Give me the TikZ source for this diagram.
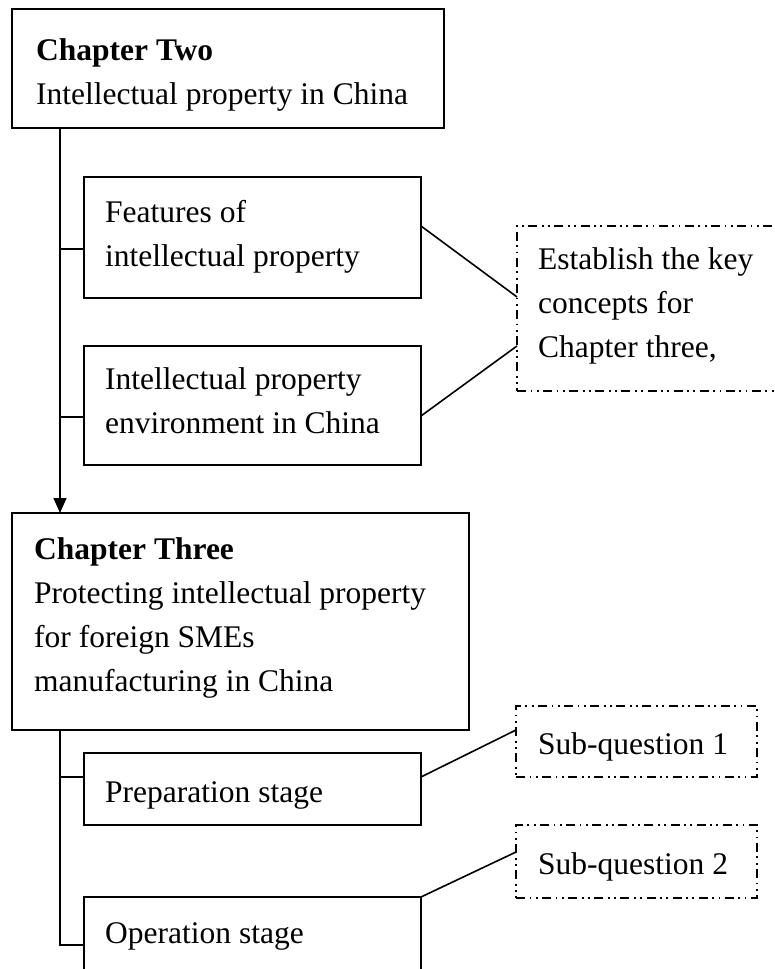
\documentclass[tikz,border=0pt]{standalone}
\usepackage{fontspec}
\setmainfont{Liberation Serif}
\usetikzlibrary{arrows.meta,calc}
\begin{document}
\begin{tikzpicture}[x=1pt,y=-1pt,
  mainbox/.style={draw,line width=2.6pt,inner sep=0pt,outer sep=0pt,anchor=north west},
  subbox/.style={draw,line width=1.8pt,inner sep=0pt,outer sep=0pt,anchor=north west},
  notebox/.style={draw,line width=1.8pt,inner sep=0pt,outer sep=0pt,anchor=north west,
    dash pattern=on 9pt off 4.5pt on 1.8pt off 4.5pt on 1.8pt off 4.5pt},
  label/.style={anchor=north west,inner sep=0pt,align=left,
    font=\fontsize{31.5}{44}\selectfont,execute at begin node={\rule{0pt}{25pt}}},
  link/.style={line width=1.6pt},
  arrowlink/.style={link,-{Triangle[length=15pt,width=13pt]}},
]
\useasboundingbox (0,0) rectangle (775,969);

% chapter boxes
\node[mainbox,minimum width=432pt,minimum height=119pt] (ch2) at (12,9) {};
\node[mainbox,minimum width=457pt,minimum height=217pt] (ch3) at (12,513) {};

% section boxes
\node[subbox,minimum width=337pt,minimum height=121pt] (feat) at (84,177) {};
\node[subbox,minimum width=337pt,minimum height=119pt] (env) at (84,346) {};
\node[subbox,minimum width=337pt,minimum height=72pt] (prep) at (84,753) {};
\node[subbox,minimum width=337pt,minimum height=90pt] (oper) at (84,897) {};

% note boxes
\node[notebox,minimum width=280pt,minimum height=165pt] (est) at (517,226) {};
\node[notebox,minimum width=241pt,minimum height=71pt] (sq1) at (516,706) {};
\node[notebox,minimum width=241pt,minimum height=73pt] (sq2) at (516,825) {};

% texts
\node[label] (ch2t) at (36,38) {\textbf{Chapter Two}\\Intellectual property in China};
\node[label] (featt) at (105,200) {Features of\\intellectual property};
\node[label] (envt) at (105,367) {Intellectual property\\environment in China};
\node[label] (ch3t) at (34,537) {\textbf{Chapter Three}\\Protecting intellectual property\\for foreign SMEs\\manufacturing in China};
\node[label] (prept) at (105,777) {Preparation stage};
\node[label] (opert) at (105,918) {Operation stage};
\node[label] (estt) at (538,247) {Establish the key\\concepts for\\Chapter three,};
\node[label] (sq1t) at (538,729) {Sub-question 1};
\node[label] (sq2t) at (538,849) {Sub-question 2};

% trunk junctions
\coordinate (j1) at (60,249);
\coordinate (j2) at (60,417);
\coordinate (j3) at (60,777);
\coordinate (j4) at (60,945);

% tree connectors
\draw[arrowlink] (ch2.south -| j1) -- (ch3.north -| j1);
\draw[link] (j1) -- (j1 -| feat.west);
\draw[link] (j2) -- (j2 -| env.west);
\draw[link] (ch3.south -| j3) -- (j4) -- (j4 -| oper.west);
\draw[link] (j3) -- (j3 -| prep.west);

% links to notes
\draw[link] ($(feat.north east)!0.405!(feat.south east)$) -- ($(est.north west)!0.43!(est.south west)$);
\draw[link] ($(env.north east)!0.588!(env.south east)$) -- ($(est.north west)!0.727!(est.south west)$);
\draw[link] ($(prep.north east)!0.333!(prep.south east)$) -- ($(sq1.north west)!0.338!(sq1.south west)$);
\draw[link] (oper.north east) -- ($(sq2.north west)!0.37!(sq2.south west)$);
\end{tikzpicture}
\end{document}
